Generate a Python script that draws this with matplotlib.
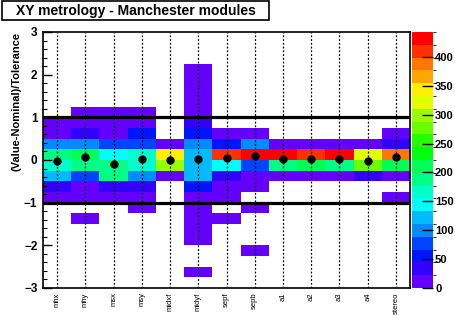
import colorsys
import numpy as np
import matplotlib
matplotlib.use("Agg")
import matplotlib.pyplot as plt
from matplotlib.colors import ListedColormap, BoundaryNorm
from matplotlib.patches import Rectangle
from matplotlib.ticker import MultipleLocator

plt.rcParams['font.family'] = ['Liberation Sans', 'DejaVu Sans']
plt.rcParams['font.weight'] = 'bold'

categories = ['mhx', 'mhy', 'msx', 'msy', 'midxf', 'midyf', 'sepf', 'sepb',
              'a1', 'a2', 'a3', 'a4', 'stereo']

# y bins of width 0.25 between -3 and 3; counts per column, keyed by lower bin edge
y_edges = np.arange(-3.0, 3.0001, 0.25)
col_counts = {
    'mhx':    {0.75: 12, 0.5: 15, 0.25: 98, 0.0: 190, -0.25: 168, -0.5: 125, -0.75: 35, -1.0: 10},
    'mhy':    {1.0: 6, 0.75: 14, 0.5: 38, 0.25: 100, 0.0: 215, -0.25: 190, -0.5: 80, -0.75: 18,
               -1.0: 12, -1.5: 4},
    'msx':    {1.0: 7, 0.75: 12, 0.5: 16, 0.25: 75, 0.0: 145, -0.25: 195, -0.5: 190, -0.75: 35,
               -1.0: 12},
    'msy':    {1.0: 6, 0.75: 15, 0.5: 55, 0.25: 78, 0.0: 165, -0.25: 170, -0.5: 100, -0.75: 38,
               -1.0: 14, -1.25: 5},
    'midxf':  {0.25: 12, 0.0: 345, -0.25: 300, -0.5: 15},
    'midyf':  {2.0: 3, 1.75: 4, 1.5: 5, 1.25: 6, 1.0: 10, 0.75: 35, 0.5: 55, 0.25: 100, 0.0: 125,
               -0.25: 125, -0.5: 120, -0.75: 55, -1.0: 18, -1.25: 8, -1.5: 6, -1.75: 5, -2.0: 4,
               -2.75: 2},
    'sepf':   {0.5: 15, 0.25: 58, 0.0: 410, -0.25: 145, -0.5: 35, -0.75: 12, -1.0: 8, -1.5: 3},
    'sepb':   {0.5: 14, 0.25: 100, 0.0: 440, -0.25: 78, -0.5: 15, -0.75: 10, -1.25: 4, -2.25: 2},
    'a1':     {0.25: 20, 0.0: 443, -0.25: 190, -0.5: 18},
    'a2':     {0.25: 18, 0.0: 412, -0.25: 215, -0.5: 20},
    'a3':     {0.25: 18, 0.0: 435, -0.25: 188, -0.5: 20},
    'a4':     {0.25: 18, 0.0: 325, -0.25: 280, -0.5: 35},
    'stereo': {0.5: 14, 0.25: 35, 0.0: 390, -0.25: 215, -0.5: 15, -1.0: 10},
}
means = [-0.03, 0.07, -0.09, 0.02, 0.01, 0.03, 0.04, 0.10, 0.02, 0.02, 0.02, -0.03, 0.06]

# ROOT "pretty" palette (50 colours), 20 contour levels
n_levels = 20
palette = [colorsys.hls_to_rgb((280 - (i + 1) * 280 / 50) / 360, 0.5, 1.0) for i in range(50)]
level_cols = [palette[int((j + 0.99) * 50 / n_levels)] for j in range(n_levels)]
cmap = ListedColormap(level_cols)

grid = np.full((len(y_edges) - 1, len(categories)), np.nan)
for ci, name in enumerate(categories):
    for lo, v in col_counts[name].items():
        ri = int(round((lo + 3.0) / 0.25))
        grid[ri, ci] = v
zmax = np.nanmax(grid)
norm = BoundaryNorm(np.linspace(0, zmax, n_levels + 1), cmap.N)

W, H = 455, 316
fig = plt.figure(figsize=(W / 100, H / 100), dpi=100)
ax = fig.add_axes([43 / W, 1 - 288 / H, (410 - 43) / W, (288 - 32) / H])
cax = fig.add_axes([411.5 / W, 1 - 288 / H, 21.5 / W, (288 - 32) / H])

x_edges = np.arange(len(categories) + 1)
mesh = ax.pcolormesh(x_edges, y_edges, np.ma.masked_invalid(grid), cmap=cmap, norm=norm)

xc = np.arange(len(categories)) + 0.5
for x in xc:
    ax.axvline(x, color='black', lw=0.9, ls=(0, (1.5, 1.5)), zorder=3)
ax.axhline(1, color='black', lw=2.3, zorder=4)
ax.axhline(-1, color='black', lw=2.3, zorder=4)
ax.plot(xc, means, 'o', color='black', ms=5, zorder=5)

ax.set_xlim(0, len(categories))
ax.set_ylim(-3, 3)
ax.set_xticks(xc)
ax.set_xticklabels(categories, rotation=90, fontsize=5.5, fontweight='normal')
ax.tick_params(axis='x', length=0, pad=3)
ax.yaxis.set_major_locator(MultipleLocator(1))
ax.yaxis.set_minor_locator(MultipleLocator(0.2))
ax.tick_params(axis='y', which='major', direction='in', length=6.5, width=1, labelsize=8.5, pad=4)
ax.tick_params(axis='y', which='minor', direction='in', length=3.2, width=0.8)
for s in ax.spines.values():
    s.set_linewidth(1.2)
ax.set_ylabel('(Value-Nominal)/Tolerance', fontsize=8, fontweight='bold', loc='top', labelpad=2)

cb = fig.colorbar(mesh, cax=cax, ticks=np.arange(0, 401, 50))
cb.outline.set_visible(False)
cax.tick_params(direction='in', length=8, width=1, labelsize=8, pad=1.5)
cax.set_ylim(0, zmax)

fig.patches.append(Rectangle((2 / W, 1 - 20 / H), 267 / W, 19 / H, transform=fig.transFigure,
                             facecolor='white', edgecolor='black', lw=1.2))
fig.text(135.5 / W, 1 - 10.5 / H, 'XY metrology - Manchester modules', ha='center', va='center',
         fontsize=10, fontweight='bold')

fig.savefig('out.png', dpi=100)
